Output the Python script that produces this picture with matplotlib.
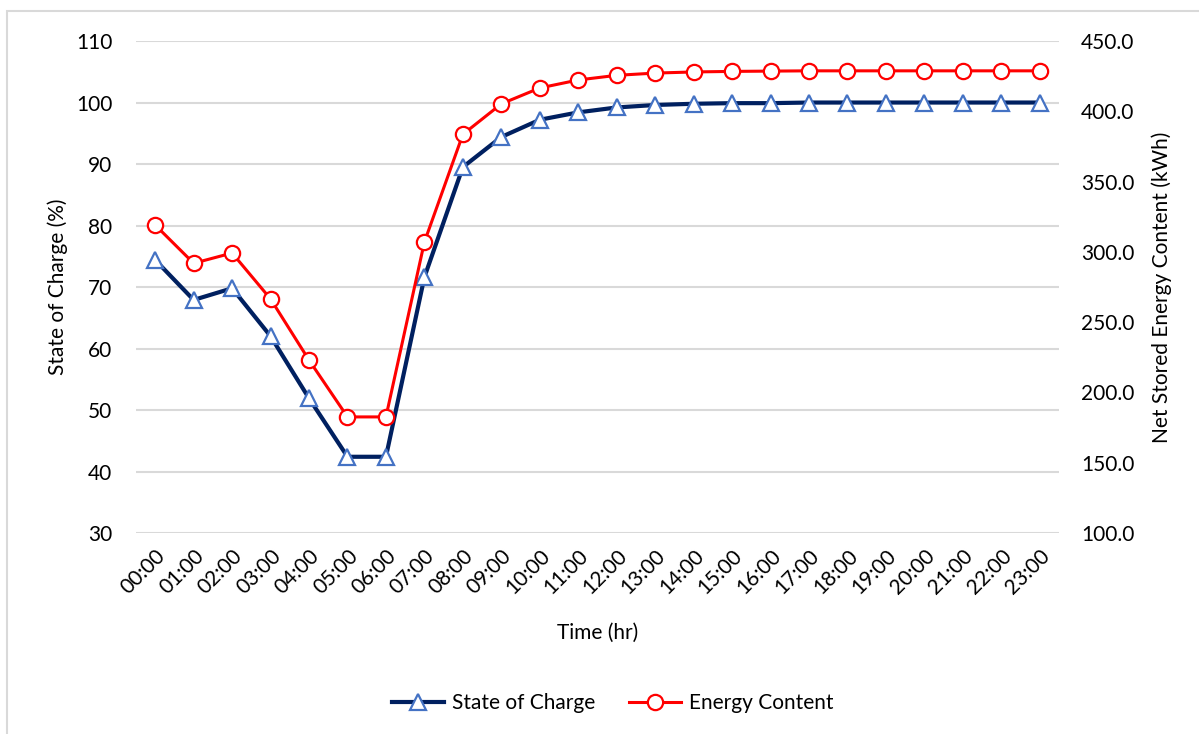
import matplotlib.pyplot as plt
from matplotlib.patches import Rectangle

plt.rcParams['font.family'] = ['Lato', 'DejaVu Sans']

hours = ["00:00", "01:00", "02:00", "03:00", "04:00", "05:00", "06:00", "07:00",
         "08:00", "09:00", "10:00", "11:00", "12:00", "13:00", "14:00", "15:00",
         "16:00", "17:00", "18:00", "19:00", "20:00", "21:00", "22:00", "23:00"]
soc = [74.4, 67.9, 69.8, 62.0, 51.9, 42.4, 42.4, 71.6, 89.5, 94.4, 97.2, 98.4,
       99.2, 99.6, 99.8, 99.9, 99.9, 100.0, 100.0, 100.0, 100.0, 100.0, 100.0, 100.0]
energy = [319.1, 291.9, 299.2, 266.5, 223.0, 182.6, 182.6, 307.0, 383.6, 405.3,
          416.6, 422.3, 425.6, 427.2, 428.0, 428.4, 428.6, 428.8, 428.8, 428.8,
          428.8, 428.8, 428.8, 428.8]

x = list(range(len(hours)))
fs = 15

fig = plt.figure(figsize=(11.99, 7.34), dpi=100)
ax = fig.add_axes([0.1134, 0.2738, 0.7698, 0.6703])
ax2 = ax.twinx()

# outer chart border (Excel chart area)
fig.patches.append(Rectangle((7 / 1199, -0.05), 1.1, 1 - 11 / 734 + 0.05,
                             transform=fig.transFigure, fill=False,
                             edgecolor='#D9D9D9', linewidth=1.5))

ax.set_ylim(30, 110)
ax.set_yticks(range(30, 111, 10))
ax2.set_ylim(100, 450)
ax2.set_yticks(range(100, 451, 50))
ax2.set_yticklabels([f"{v:.1f}" for v in range(100, 451, 50)])
ax.set_xlim(-0.5, len(hours) - 0.5)
ax.set_xticks(x)
ax.set_xticklabels(hours, rotation=45, ha='right', rotation_mode='anchor')

ax.grid(axis='y', color='#D9D9D9', linewidth=1.5)
ax.set_axisbelow(True)
for a in (ax, ax2):
    for s in a.spines.values():
        s.set_visible(False)
    a.tick_params(length=0, labelsize=fs, colors='black')
ax.tick_params(axis='y', pad=17)
ax.tick_params(axis='x', pad=9)
ax2.tick_params(axis='y', pad=16)

l1, = ax.plot(x, soc, color='#002060', linewidth=3, marker='^', markersize=12,
              markerfacecolor='white', markeredgecolor='#4472C4', markeredgewidth=1.6,
              label='State of Charge', zorder=3)
l2, = ax2.plot(x, energy, color='#FF0000', linewidth=2.2, marker='o', markersize=11,
               markerfacecolor='white', markeredgecolor='#FF0000', markeredgewidth=1.6,
               label='Energy Content', zorder=3)

ax.set_xlabel('Time (hr)', fontsize=fs, labelpad=18)
ax.set_ylabel('State of Charge (%)', fontsize=fs, labelpad=6)
ax2.set_ylabel('Net Stored Energy Content (kWh)', fontsize=fs, labelpad=12)

fig.legend(handles=[l1, l2], loc='center', bbox_to_anchor=(0.511, 1 - 703 / 734),
           ncol=2, frameon=False, fontsize=fs, handlelength=2.5, columnspacing=1.6,
           handletextpad=0.4)

fig.savefig('out.png', dpi=100, facecolor='white')
